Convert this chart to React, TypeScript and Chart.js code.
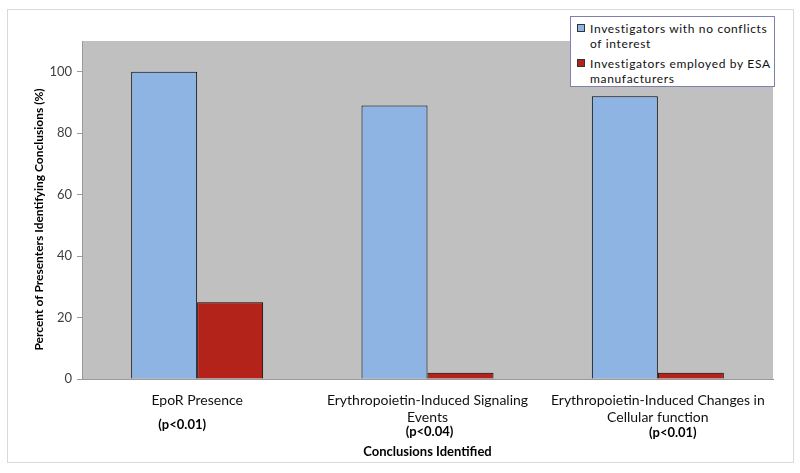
import React, { useEffect, useRef } from "react";
import { Chart, registerables } from "chart.js";

Chart.register(...registerables);

// ---- data ----
const categories: string[][] = [
  ["EpoR Presence"],
  ["Erythropoietin-Induced Signaling", "Events"],
  ["Erythropoietin-Induced Changes in", "Cellular function"],
];
const pValues: string[] = ["(p<0.01)", "(p<0.04)", "(p<0.01)"];
const noConflictValues: number[] = [100, 89, 92];
const esaEmployedValues: number[] = [25, 2, 2];
const seriesLabels: string[] = [
  "Investigators with no conflicts of interest",
  "Investigators employed by ESA manufacturers",
];
const yTickValues: number[] = [0, 20, 40, 60, 80, 100];
const yAxisTitle = "Percent of Presenters Identifying Conclusions (%)";
const xAxisTitle = "Conclusions Identified";

// ---- styles ----
const FONT = "Lato, 'Liberation Sans', sans-serif";
const seriesColors = ["#8DB4E2", "#B3231A"];
const pLabelOffsets = [
  { dx: -15, y: 425 },
  { dx: 2, y: 432 },
  { dx: 15, y: 433 },
];

const plotBackground = {
  id: "plotBackground",
  beforeDraw(chart: any) {
    const { ctx, chartArea } = chart;
    ctx.save();
    ctx.fillStyle = "#C0C0C0";
    ctx.fillRect(chartArea.left, chartArea.top, chartArea.right - chartArea.left, chartArea.bottom - chartArea.top);
    ctx.restore();
  },
};

const extraText = {
  id: "extraText",
  afterDraw(chart: any) {
    const { ctx } = chart;
    const xs = chart.scales.x;
    ctx.save();
    ctx.font = `bold 13px ${FONT}`;
    ctx.fillStyle = "#000";
    ctx.textAlign = "center";
    ctx.textBaseline = "middle";
    pValues.forEach((p, i) => {
      const off = pLabelOffsets[i];
      ctx.fillText(p, xs.getPixelForValue(i) + off.dx, off.y);
    });
    // y axis title
    ctx.translate(39, 219.5);
    ctx.rotate(-Math.PI / 2);
    ctx.font = `bold 12px ${FONT}`;
    ctx.fillText(yAxisTitle, 0, 0);
    ctx.restore();
  },
};

export default function App() {
  const canvasRef = useRef<HTMLCanvasElement | null>(null);

  useEffect(() => {
    const canvas = canvasRef.current;
    if (!canvas) return;
    const chart = new Chart(canvas, {
      type: "bar",
      data: {
        labels: categories as any,
        datasets: [
          {
            label: seriesLabels[0],
            data: noConflictValues,
            backgroundColor: seriesColors[0],
            borderColor: "#000",
            borderWidth: 1,
          },
          {
            label: seriesLabels[1],
            data: esaEmployedValues,
            backgroundColor: seriesColors[1],
            borderColor: "#000",
            borderWidth: 1,
          },
        ],
      },
      options: {
        responsive: false,
        animation: false,
        devicePixelRatio: 1,
        layout: { padding: { left: 0, right: 27, top: 41, bottom: 0 } },
        datasets: {
          bar: { categoryPercentage: 0.573, barPercentage: 1 },
        } as any,
        plugins: {
          legend: { display: false },
          tooltip: { enabled: false },
        },
        scales: {
          x: {
            grid: { display: false, drawTicks: false },
            border: { display: true, color: "#9a9a9a" },
            ticks: {
              color: "#111",
              font: { family: FONT, size: 14, lineHeight: 1.21 },
              padding: 13,
              maxRotation: 0,
              autoSkip: false,
            },
            title: {
              display: true,
              text: xAxisTitle,
              color: "#000",
              font: { family: FONT, size: 13, weight: "bold" },
              padding: { top: 0, bottom: 13 },
            },
            afterFit(scale: any) {
              scale.height = 94;
            },
          },
          y: {
            min: 0,
            max: 110,
            afterBuildTicks(scale: any) {
              scale.ticks = yTickValues.map((v) => ({ value: v }));
            },
            grid: { drawOnChartArea: false, drawTicks: true, tickLength: 5, color: "#9a9a9a" },
            border: { display: true, color: "#9a9a9a" },
            ticks: {
              color: "#404040",
              font: { family: FONT, size: 13 },
              padding: 5,
            },
            title: { display: false },
            afterFit(scale: any) {
              scale.width = 82;
            },
          },
        },
      },
      plugins: [plotBackground, extraText],
    });
    return () => chart.destroy();
  }, []);

  return (
    <div style={{ position: "fixed", left: 0, top: 0, width: 800, height: 473, background: "#fff", overflow: "hidden" }}>
      <div
        style={{
          position: "absolute",
          left: 7,
          top: 9,
          width: 787,
          height: 454,
          boxSizing: "border-box",
          border: "1px solid #d9d9d9",
        }}
      />
      <canvas ref={canvasRef} width={800} height={473} style={{ position: "absolute", left: 0, top: 0, width: 800, height: 473 }} />
      <div
        style={{
          position: "absolute",
          left: 570,
          top: 16,
          width: 205,
          height: 71,
          boxSizing: "border-box",
          border: "1px solid #8080B0",
          background: "#fff",
          padding: "4px 2px 0 6px",
          fontFamily: FONT,
          fontSize: 12,
          letterSpacing: "0.65px",
          color: "#111",
        }}
      >
        {seriesLabels.map((lbl, i) => (
          <div key={i} style={{ display: "flex", alignItems: "flex-start", marginBottom: 5 }}>
            <span
              style={{
                display: "inline-block",
                width: 8,
                height: 8,
                marginTop: 3,
                marginRight: 5,
                flex: "0 0 auto",
                background: seriesColors[i],
                border: "1px solid #333",
                boxSizing: "border-box",
              }}
            />
            <span style={{ lineHeight: "15px", width: 186 }}>{lbl}</span>
          </div>
        ))}
      </div>
    </div>
  );
}
